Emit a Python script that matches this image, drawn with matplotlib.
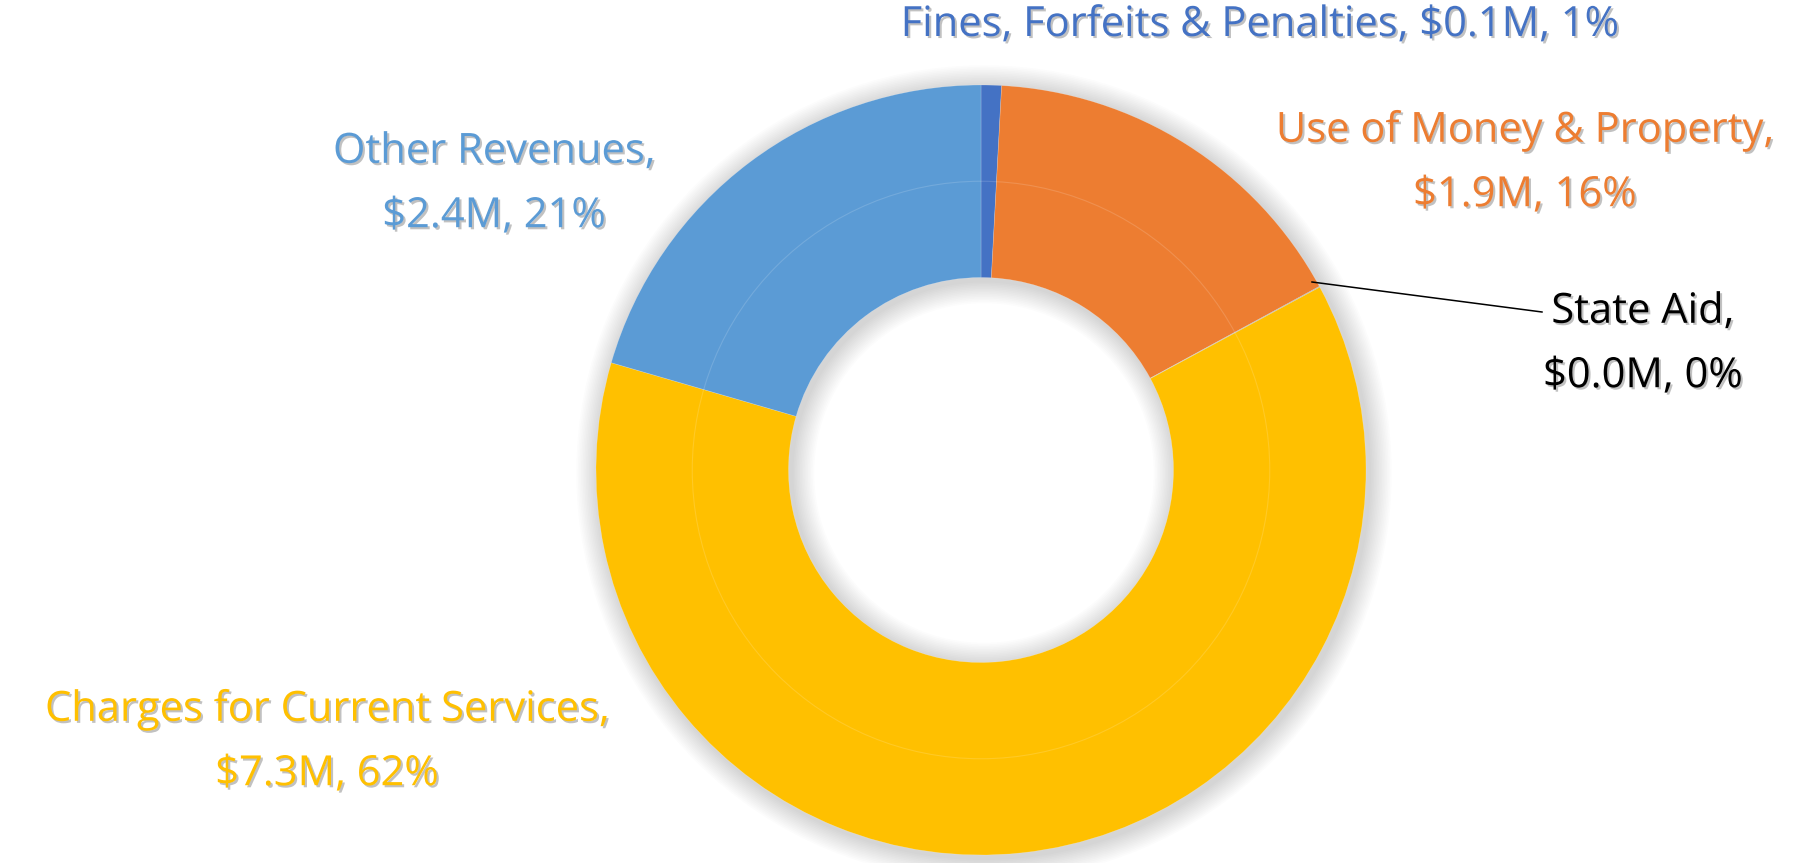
import matplotlib
matplotlib.use("Agg")
import matplotlib.pyplot as plt
import matplotlib.patheffects as pe
from matplotlib.patches import Circle, Wedge

categories = ["Fines, Forfeits & Penalties", "Use of Money & Property", "State Aid",
              "Charges for Current Services", "Other Revenues"]
values = [0.1, 1.9, 0.004, 7.3, 2.4]          # $M
wedge_colors = ["#4472C4", "#ED7D31", "#A5A5A5", "#FFC000", "#5B9BD5"]
text_colors = ["#4472C4", "#ED7D31", "#000000", "#FFC000", "#5B9BD5"]

W, H = 1799, 863
fig = plt.figure(figsize=(W / 100, H / 100), dpi=100)
ax = fig.add_axes([0, 0, 1, 1])
ax.set_xlim(0, W)
ax.set_ylim(0, H)
ax.set_aspect("equal")
ax.axis("off")

cx, cy = 981, H - 470
R = 385
ring = 0.5

# soft shadow/glow around the ring
for i in range(14):
    r_out = R + 2 + i * 1.6
    ax.add_patch(Wedge((cx + 3, cy - 3), r_out, 0, 360, width=r_out - R * (1 - ring) + 2 + i * 1.6,
                       facecolor="black", alpha=0.012, lw=0, zorder=1))

wedges, _ = ax.pie(values, colors=wedge_colors, startangle=90, counterclock=False,
                   radius=R, center=(cx, cy),
                   wedgeprops=dict(width=R * ring, linewidth=0.4, edgecolor=(1, 1, 1, 0.3)))
for w in wedges:
    w.set_zorder(3)
ax.set_xlim(0, W)
ax.set_ylim(0, H)

# faint inner bevel line
ax.add_patch(Circle((cx, cy), R * 0.75, fill=False, edgecolor=(1, 1, 1, 0.15), lw=0.8, zorder=4))

total = sum(values)
labels = [f"{c}, ${v:.1f}M, {round(v / total * 100):.0f}%" for c, v in zip(categories, values)]
labels_two = [f"{c},\n${v:.1f}M, {round(v / total * 100):.0f}%" for c, v in zip(categories, values)]

shadow = [pe.SimplePatchShadow(offset=(1.5, -1.5), shadow_rgbFace="#777777", alpha=0.45), pe.Normal()]
fs = 30
font = "Open Sans"

pos = {
    0: (1260, H - 25, labels[0]),
    1: (1525, H - 163, labels_two[1]),
    2: (1643, H - 344, labels_two[2]),
    3: (327, H - 742, labels_two[3]),
    4: (494, H - 184, labels_two[4]),
}
for i, (x, y, s) in pos.items():
    ax.text(x, y, s, ha="center", va="center", fontsize=fs, family=font, color=text_colors[i],
            linespacing=1.7, path_effects=shadow, zorder=6)

# leader line for State Aid
ax.plot([1312, 1542], [H - 282, H - 312], color="black", lw=1.1, zorder=5)

fig.savefig("out.png", dpi=100, facecolor="white")
